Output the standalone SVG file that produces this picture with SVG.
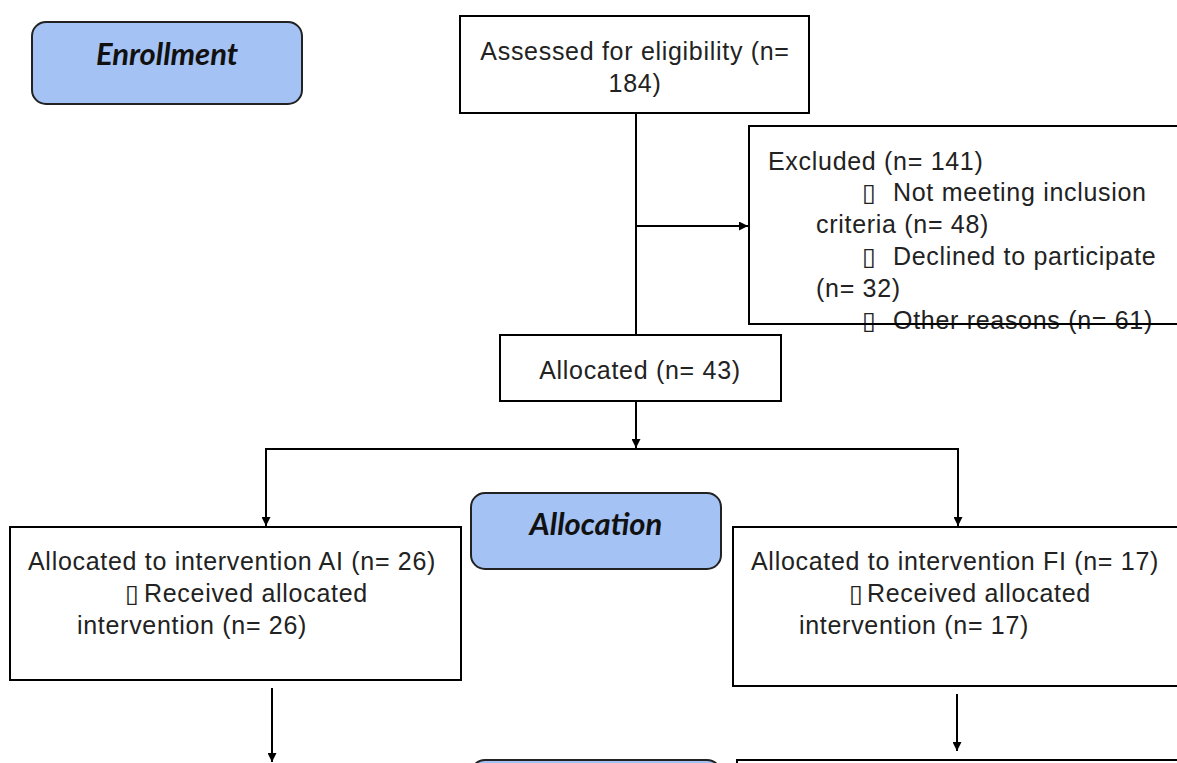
<svg xmlns="http://www.w3.org/2000/svg" width="1177" height="763" viewBox="0 0 1177 763">
<defs>
<style>
.box{fill:#ffffff;stroke:#000000;stroke-width:2}
.stage{fill:#a4c2f4;stroke:#222222;stroke-width:2}
.t{font-family:"Liberation Sans",Arial,sans-serif;font-size:25px;letter-spacing:0.7px;fill:#222222}
.s{font-family:Lato,"Open Sans",sans-serif;font-size:31px;font-weight:bold;font-style:italic;fill:#111111}
.c{fill:none;stroke:#000000;stroke-width:2}
</style>
<marker id="ah" viewBox="0 0 10 10" refX="10" refY="5" markerWidth="11" markerHeight="9" markerUnits="userSpaceOnUse" orient="auto">
<path d="M0,0 L10,5 L0,10 z" fill="#000000"/>
</marker>
</defs>
<rect width="1177" height="763" fill="#ffffff"/>

<g id="connectors">
<line class="c" x1="636" y1="113" x2="636" y2="335"/>
<line class="c" x1="636" y1="226" x2="748" y2="226" marker-end="url(#ah)"/>
<line class="c" x1="636" y1="401" x2="636" y2="448" marker-end="url(#ah)"/>
<polyline class="c" points="266,500 266,449 958,449 958,500"/>
<line class="c" x1="266" y1="500" x2="266" y2="526" marker-end="url(#ah)"/>
<line class="c" x1="958" y1="500" x2="958" y2="526" marker-end="url(#ah)"/>
<line class="c" x1="272" y1="688" x2="272" y2="762" marker-end="url(#ah)"/>
<line class="c" x1="957" y1="694" x2="957" y2="751" marker-end="url(#ah)"/>
</g>

<g id="enrollment">
<rect class="stage" x="32" y="22" width="270" height="82" rx="14"/>
<text class="s" x="167" y="65" text-anchor="middle">Enrollment</text>
</g>

<g id="assessed">
<rect class="box" x="460" y="16" width="349" height="97"/>
<text class="t" x="635" y="60" text-anchor="middle">Assessed for eligibility (n=</text>
<text class="t" x="635" y="92" text-anchor="middle">184)</text>
</g>

<g id="excluded">
<rect class="box" x="749" y="126" width="440" height="198"/>
<text class="t" x="768" y="170">Excluded (n= 141)</text>
<text class="t" y="201"><tspan x="862">▯</tspan><tspan x="893">Not meeting inclusion</tspan></text>
<text class="t" x="816" y="233">criteria (n= 48)</text>
<text class="t" y="265"><tspan x="862">▯</tspan><tspan x="893">Declined to participate</tspan></text>
<text class="t" x="816" y="297">(n= 32)</text>
<text class="t" y="329"><tspan x="862">▯</tspan><tspan x="893">Other reasons (n= 61)</tspan></text>
<line x1="749" y1="324" x2="1177" y2="324" stroke="#000000" stroke-width="2"/>
</g>

<g id="allocated">
<rect class="box" x="500" y="335" width="281" height="66"/>
<text class="t" x="640" y="379" text-anchor="middle">Allocated (n= 43)</text>
</g>

<g id="allocation">
<rect class="stage" x="471" y="493" width="250" height="76" rx="14"/>
<text class="s" x="596" y="535" text-anchor="middle">Allocation</text>
</g>

<g id="ai">
<rect class="box" x="10" y="527" width="451" height="153"/>
<text class="t" x="28" y="570">Allocated to intervention AI (n= 26)</text>
<text class="t" y="602"><tspan x="125">▯</tspan><tspan x="144">Received allocated</tspan></text>
<text class="t" x="77" y="634">intervention (n= 26)</text>
</g>

<g id="fi">
<rect class="box" x="733" y="527" width="460" height="159"/>
<text class="t" x="751" y="570">Allocated to intervention FI (n= 17)</text>
<text class="t" y="602"><tspan x="849">▯</tspan><tspan x="867">Received allocated</tspan></text>
<text class="t" x="799" y="634">intervention (n= 17)</text>
</g>

<g id="followup">
<rect class="stage" x="471" y="760" width="250" height="40" rx="14"/>
</g>

<g id="followup-box">
<rect class="box" x="737" y="760" width="460" height="40"/>
</g>
</svg>
